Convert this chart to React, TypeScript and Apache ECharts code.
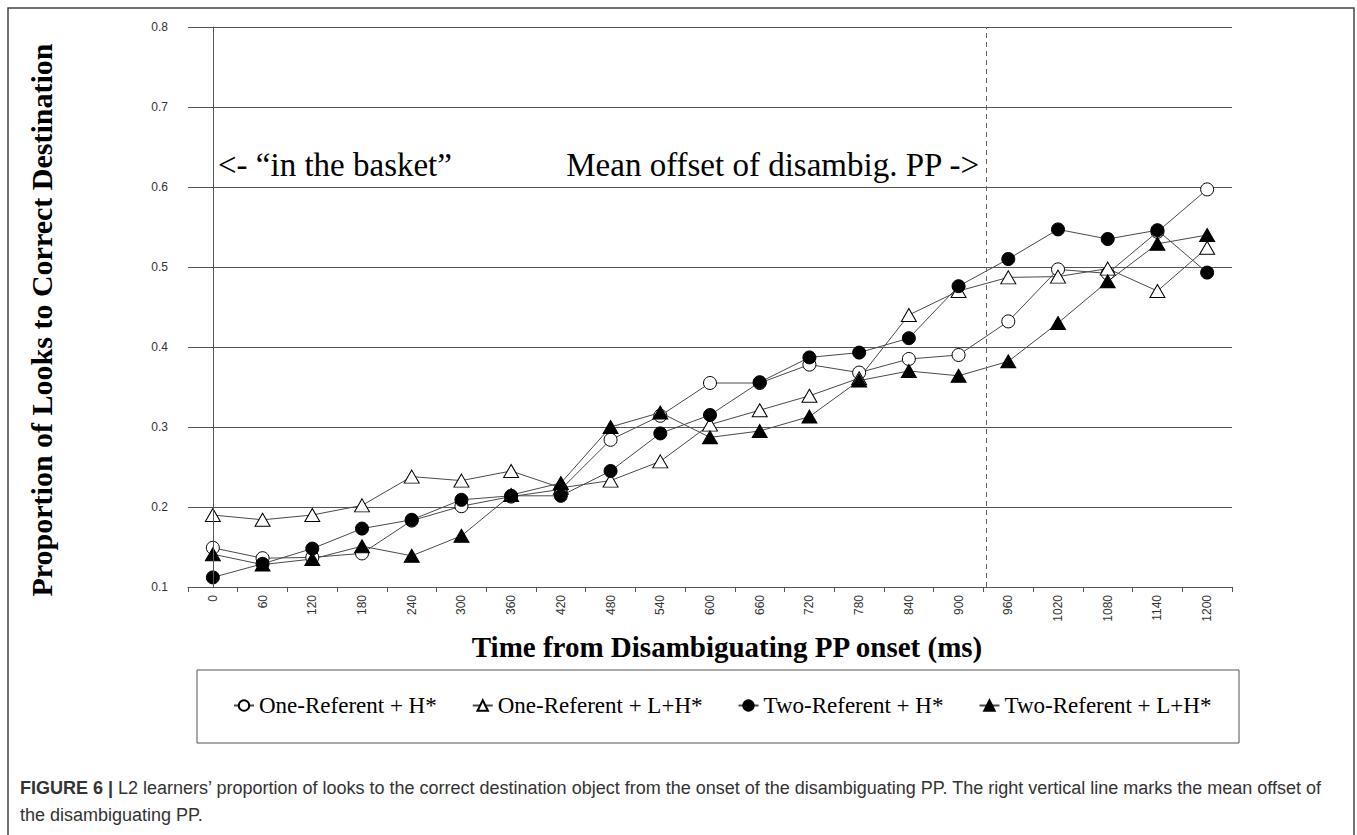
import React, { useEffect, useRef } from "react";
import * as echarts from "echarts";

// ---- data ----
const timeLabels = ["0", "60", "120", "180", "240", "300", "360", "420", "480", "540", "600", "660", "720", "780", "840", "900", "960", "1020", "1080", "1140", "1200"];

const seriesNames = [
  "One-Referent + H*",
  "One-Referent + L+H*",
  "Two-Referent + H*",
  "Two-Referent + L+H*",
];

const oneRefH = [0.149, 0.136, 0.137, 0.142, 0.183, 0.201, 0.213, 0.222, 0.284, 0.314, 0.355, 0.355, 0.378, 0.368, 0.385, 0.390, 0.432, 0.497, 0.492, 0.544, 0.597];
const oneRefLH = [0.190, 0.184, 0.190, 0.202, 0.238, 0.233, 0.245, 0.224, 0.233, 0.257, 0.303, 0.321, 0.339, 0.361, 0.440, 0.470, 0.487, 0.488, 0.498, 0.470, 0.524];
const twoRefH = [0.112, 0.129, 0.148, 0.173, 0.184, 0.209, 0.214, 0.214, 0.245, 0.292, 0.315, 0.356, 0.387, 0.393, 0.411, 0.476, 0.510, 0.547, 0.535, 0.546, 0.493];
const twoRefLH = [0.141, 0.128, 0.135, 0.151, 0.139, 0.164, 0.215, 0.230, 0.300, 0.318, 0.287, 0.295, 0.313, 0.358, 0.370, 0.364, 0.382, 0.430, 0.482, 0.529, 0.540];

const yMin = 0.1;
const yMax = 0.8;
const yStep = 0.1;
const meanOffsetMs = 933;

const leftNote = "<- \u201Cin the basket\u201D";
const rightNote = "Mean offset of disambig. PP ->";
const yTitle = "Proportion of Looks to Correct Destination";
const xTitle = "Time from Disambiguating PP onset (ms)";
const captionLine1 = "L2 learners\u2019 proportion of looks to the correct destination object from the onset of the disambiguating PP. The right vertical line marks the mean offset of";
const captionLine2 = "the disambiguating PP.";

const SERIF = "'Liberation Serif', 'Times New Roman', serif";
const SANS = "'Liberation Sans', Arial, sans-serif";

function makeSeries(name: string, data: number[], symbol: string, filled: boolean, size: any) {
  return {
    name,
    type: "line",
    data,
    symbol,
    symbolSize: size,
    showSymbol: true,
    lineStyle: { color: "#4a4a4a", width: 1 },
    itemStyle: { color: filled ? "#000" : "#fff", borderColor: "#000", borderWidth: 1 },
    emphasis: { disabled: true },
    z: 3,
  };
}

export default function App() {
  const ref = useRef<HTMLDivElement>(null);

  useEffect(() => {
    if (!ref.current) return;
    const chart = echarts.init(ref.current, undefined, { renderer: "svg" });

    const s1: any = makeSeries(seriesNames[0], oneRefH, "circle", false, 13);
    s1.markLine = {
      silent: true,
      symbol: "none",
      label: { show: false },
      lineStyle: { color: "#555", type: "solid", width: 1 },
      data: [{ xAxis: timeLabels[0] }],
    };

    const option: any = {
      animation: false,
      backgroundColor: "#fff",
      grid: { left: 188, right: 125, top: 27, bottom: 248, containLabel: false },
      legend: {
        data: seriesNames,
        left: 233,
        top: 694,
        padding: 0,
        itemGap: 35,
        itemWidth: 20,
        itemHeight: 13,
        selectedMode: false,
        textStyle: { fontFamily: SERIF, fontSize: 23, color: "#000" },
      },
      xAxis: [
        {
          type: "category",
          data: timeLabels,
          boundaryGap: true,
          axisLine: { show: true, lineStyle: { color: "#555", width: 1 } },
          axisTick: { show: true, interval: 0, length: 5, alignWithLabel: false, lineStyle: { color: "#555" } },
          axisLabel: { rotate: 90, interval: 0, margin: 8, fontFamily: SANS, fontSize: 12, color: "#333" },
          splitLine: { show: false },
          name: xTitle,
          nameLocation: "middle",
          nameGap: 45,
          nameTextStyle: { fontFamily: SERIF, fontWeight: "bold", fontSize: 29, color: "#000", padding: [0, 0, 0, 34] },
        },
        {
          type: "value",
          min: -30,
          max: 1230,
          show: false,
          splitLine: { show: false },
        },
      ],
      yAxis: {
        type: "value",
        min: yMin,
        max: yMax,
        interval: yStep,
        axisLine: { show: true, lineStyle: { color: "#555", width: 1 } },
        axisTick: { show: true, length: 5, lineStyle: { color: "#555" } },
        splitLine: { show: true, lineStyle: { color: "#555", width: 1 } },
        axisLabel: {
          margin: 20,
          fontFamily: SANS,
          fontSize: 12,
          color: "#333",
          formatter: (v: number) => v.toFixed(1),
        },
        name: yTitle,
        nameLocation: "middle",
        nameGap: 132,
        nameTextStyle: { fontFamily: SERIF, fontWeight: "bold", fontSize: 30, color: "#000", padding: [0, 26, 0, 0] },
      },
      series: [
        s1,
        makeSeries(seriesNames[1], oneRefLH, "triangle", false, [15, 13]),
        makeSeries(seriesNames[2], twoRefH, "circle", true, 13),
        makeSeries(seriesNames[3], twoRefLH, "triangle", true, [15, 13]),
        {
          name: "Mean offset",
          type: "line",
          xAxisIndex: 1,
          yAxisIndex: 0,
          data: [],
          showSymbol: false,
          markLine: {
            silent: true,
            symbol: "none",
            label: { show: false },
            lineStyle: { color: "#666", type: [5, 4], width: 1 },
            data: [{ xAxis: meanOffsetMs }],
          },
        },
      ],
      graphic: [
        {
          type: "rect",
          shape: { x: 8, y: 8, width: 1346, height: 900 },
          style: { fill: "none", stroke: "#444", lineWidth: 1.5 },
          silent: true,
          z: 0,
        },
        {
          type: "rect",
          shape: { x: 197, y: 670, width: 1042, height: 73 },
          style: { fill: "none", stroke: "#555", lineWidth: 1 },
          silent: true,
          z: 0,
        },
        {
          type: "text",
          x: 218,
          y: 165,
          style: { text: leftNote, fontFamily: SERIF, fontSize: 33, fill: "#000", verticalAlign: "middle", align: "left" },
          silent: true,
        },
        {
          type: "text",
          x: 979,
          y: 165,
          style: { text: rightNote, fontFamily: SERIF, fontSize: 33, fill: "#000", verticalAlign: "middle", align: "right" },
          silent: true,
        },
        {
          type: "text",
          x: 20,
          y: 788,
          style: {
            text: "{b|FIGURE 6 |} " + captionLine1,
            fontFamily: SANS,
            fontSize: 18,
            fill: "#333",
            verticalAlign: "middle",
            rich: { b: { fontFamily: SANS, fontSize: 18, fontWeight: "bold", fill: "#333" } },
          },
          silent: true,
        },
        {
          type: "text",
          x: 20,
          y: 815,
          style: { text: captionLine2, fontFamily: SANS, fontSize: 18, fill: "#333", verticalAlign: "middle" },
          silent: true,
        },
      ],
    };

    chart.setOption(option);
    return () => chart.dispose();
  }, []);

  return <div ref={ref} style={{ position: "absolute", left: 0, top: 0, width: 1357, height: 835 }} />;
}
